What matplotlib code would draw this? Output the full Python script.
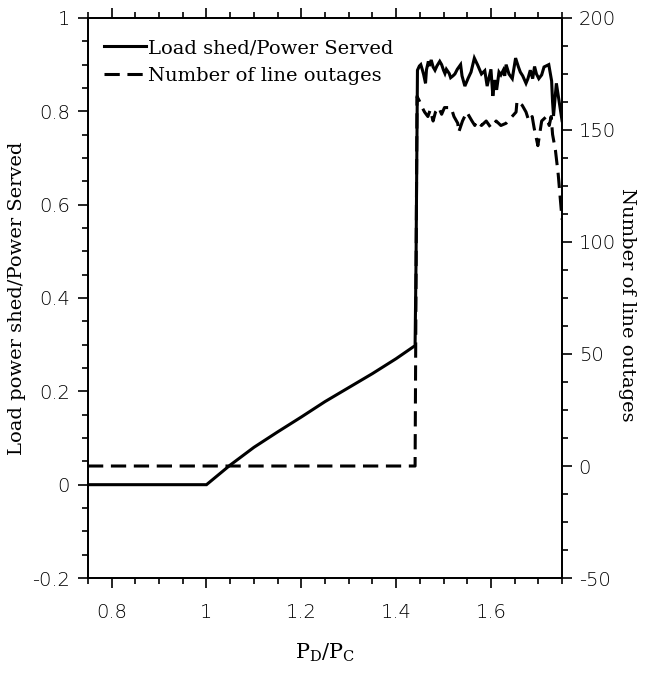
import numpy as np
import matplotlib.pyplot as plt
from matplotlib.ticker import MultipleLocator

# load shed / power served (left axis)
shed_x = [0.75, 1.0, 1.05, 1.1, 1.15, 1.2, 1.25, 1.3, 1.35, 1.4, 1.44, 1.442,
          1.445, 1.449, 1.452, 1.455, 1.458, 1.462, 1.464, 1.468, 1.47, 1.474,
          1.478, 1.482, 1.486, 1.492, 1.496, 1.5, 1.503, 1.506, 1.512, 1.515,
          1.52, 1.524, 1.529, 1.536, 1.539, 1.545, 1.552, 1.558, 1.565, 1.572,
          1.58, 1.587, 1.592, 1.6, 1.604, 1.608, 1.612, 1.617, 1.621, 1.626,
          1.629, 1.632, 1.638, 1.645, 1.652, 1.658, 1.662, 1.667, 1.674, 1.678,
          1.683, 1.688, 1.692, 1.696, 1.701, 1.707, 1.712, 1.722, 1.728, 1.73,
          1.732, 1.738, 1.75]
shed_y = [0.0, 0.0, 0.042, 0.08, 0.113, 0.145, 0.178, 0.208, 0.238, 0.27, 0.298, 0.48,
          0.888, 0.897, 0.9, 0.89, 0.879, 0.86, 0.889, 0.907, 0.897, 0.91,
          0.895, 0.888, 0.897, 0.907, 0.9, 0.888, 0.881, 0.89, 0.881, 0.872,
          0.876, 0.88, 0.89, 0.9, 0.876, 0.854, 0.871, 0.884, 0.914, 0.899,
          0.88, 0.887, 0.854, 0.89, 0.833, 0.867, 0.846, 0.884, 0.878, 0.888,
          0.876, 0.9, 0.88, 0.87, 0.914, 0.895, 0.884, 0.876, 0.86, 0.87,
          0.888, 0.87, 0.896, 0.88, 0.87, 0.878, 0.895, 0.9, 0.865, 0.82,
          0.79, 0.86, 0.78]

# number of line outages (right axis)
out_x = [0.75, 1.44, 1.444, 1.449, 1.455, 1.46, 1.467, 1.472, 1.478, 1.483, 1.49,
         1.496, 1.502, 1.516, 1.522, 1.53, 1.532, 1.54, 1.549, 1.56, 1.566, 1.57,
         1.58, 1.59, 1.6, 1.611, 1.621, 1.632, 1.653, 1.655, 1.666, 1.674, 1.68,
         1.687, 1.691, 1.694, 1.699, 1.707, 1.717, 1.723, 1.727, 1.73, 1.736,
         1.742, 1.75]
out_y = [0, 0, 165, 163, 160, 158, 156, 159, 154, 158, 160, 157, 160, 160, 156,
         153, 149, 154, 158, 154, 152, 154, 152, 154, 151, 154, 152, 153, 158,
         163, 161, 158, 154, 156, 151, 148, 143, 154, 156, 152, 156, 148, 141,
         130, 110]

plt.rcParams['font.family'] = 'DejaVu Serif'
plt.rcParams['mathtext.fontset'] = 'dejavuserif'
plt.rcParams['axes.unicode_minus'] = False

fig = plt.figure(figsize=(6.45, 6.83), dpi=100)
ax = fig.add_axes([0.1364, 0.1537, 0.735, 0.82])
ax2 = ax.twinx()

l1, = ax.plot(shed_x, shed_y, color='black', lw=2.2, solid_joinstyle='miter')
l2, = ax2.plot(out_x, out_y, color='black', lw=2.2, dashes=(5, 2.5))

ax.set_xlim(0.75, 1.75)
ax.set_ylim(-0.2, 1.0)
ax2.set_ylim(-50, 200)

ax.xaxis.set_major_locator(MultipleLocator(0.2))
ax.xaxis.set_minor_locator(MultipleLocator(0.05))
ax.yaxis.set_major_locator(MultipleLocator(0.2))
ax.yaxis.set_minor_locator(MultipleLocator(0.05))
ax2.yaxis.set_major_locator(MultipleLocator(50))
ax2.yaxis.set_minor_locator(MultipleLocator(12.5))

ax.set_xticks([0.8, 1.0, 1.2, 1.4, 1.6])
ax.set_xticklabels(['0.8', '1', '1.2', '1.4', '1.6'])
ax.set_yticks([-0.2, 0, 0.2, 0.4, 0.6, 0.8, 1.0])
ax.set_yticklabels(['-0.2', '0', '0.2', '0.4', '0.6', '0.8', '1'])

ax.tick_params(axis='x', which='both', direction='out', top=True, pad=11)
ax.tick_params(axis='y', which='both', direction='out', pad=6)
ax.tick_params(which='major', length=7, width=1.2, labelsize=14)
ax.tick_params(which='minor', length=4, width=1.2)
ax2.tick_params(which='major', length=7, width=1.2, labelsize=14, pad=5)
ax2.tick_params(which='minor', length=4, width=1.2)
for lab in ax.get_xticklabels() + ax.get_yticklabels() + ax2.get_yticklabels():
    lab.set_family('DejaVu Sans')
    lab.set_fontweight('light')

for a in (ax, ax2):
    for s in a.spines.values():
        s.set_linewidth(1.3)

ax.set_xlabel('P$_\\mathregular{D}$/P$_\\mathregular{C}$', fontsize=15, labelpad=14)
ax.set_ylabel('Load power shed/Power Served', fontsize=14, labelpad=4)
fig.text(627 / 645, 1 - 305 / 683, 'Number of line outages', fontsize=14,
         rotation=270, ha='center', va='center')

ax.legend([l1, l2], ['Load shed/Power Served', 'Number of line outages'],
          loc='upper left', bbox_to_anchor=(0.0, 0.99), frameon=False,
          fontsize=14, handlelength=2.2, handletextpad=0.1, borderpad=0.3,
          labelspacing=0.5)

fig.savefig('out.png', dpi=100)
